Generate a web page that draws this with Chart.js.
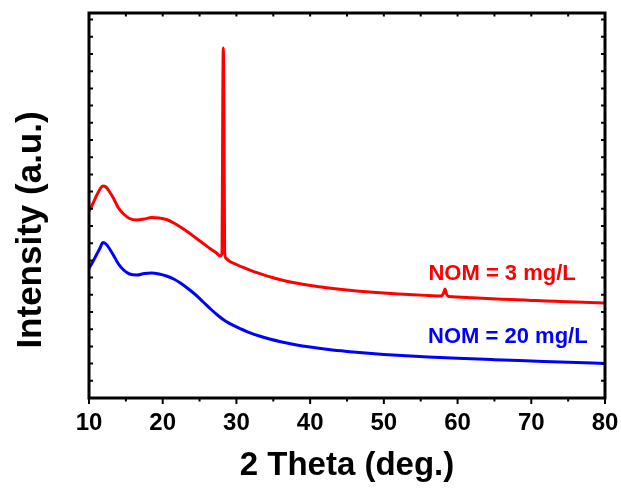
<!DOCTYPE html>
<html>
<head>
<meta charset="utf-8">
<title>XRD patterns</title>
<script src="https://cdn.jsdelivr.net/npm/chart.js@4.4.1/dist/chart.umd.min.js"></script>
<style>
  html, body { margin: 0; padding: 0; background: #fff; }
  #wrap { width: 621px; height: 488px; }
</style>
</head>
<body>
<div id="wrap"><canvas id="xrdChart"></canvas></div>
<script>
// 2 theta (deg.) and intensity (a.u.) for both NOM loadings
const redTheta = [10.0, 10.5, 11.0, 11.5, 11.9, 12.3, 12.8, 13.3, 14.0, 14.7,
  15.5, 16.5, 17.5, 18.5, 19.5, 20.5, 21.5, 22.5, 23.5, 24.5,
  25.5, 26.5, 27.3, 27.8, 28.05, 28.15, 28.22, 28.3, 28.4, 28.6,
  29.0, 30, 31, 32, 33, 34, 35, 36, 37.5, 39,
  40.5, 42, 44, 46, 48, 50, 52, 54, 56, 57.8,
  58.1, 58.3, 58.5, 58.8, 60, 62, 64, 66, 68, 70,
  72, 74, 76, 78, 80];
const redIntensity = [187, 194, 202, 209, 212, 211, 206, 200, 190, 184,
  179.5, 178, 179, 180.5, 180, 178.5, 175, 170.5, 165.5, 160,
  154.5, 149, 145, 142, 145, 300, 350, 290, 146, 139.5,
  137, 133.5, 130.3, 127.4, 124.8, 122.4, 120.2, 118.3, 115.8, 113.8,
  112, 110.5, 108.7, 107.2, 106, 104.9, 104, 103.2, 102.5, 101.9,
  105, 109, 104, 101.5, 101, 100.2, 99.5, 98.8, 98.2, 97.6,
  97, 96.5, 96, 95.5, 95];

const blueTheta = [10.0, 10.5, 11.0, 11.5, 11.9, 12.3, 12.8, 13.3, 14.0, 14.7,
  15.5, 16.5, 17.5, 18.5, 19.5, 20.5, 21.5, 22.5, 23.5, 24.5,
  25.5, 26.5, 27.5, 28.5, 29.5, 30.5, 31.5, 33, 34.5, 36,
  38, 40, 42.5, 45, 47.5, 50, 53, 56, 60, 65,
  70, 75, 80];
const blueIntensity = [129.5, 136, 143, 150, 155.5, 154, 149, 143, 134, 128,
  124, 123, 124.5, 125, 124, 122, 119, 114.5, 109, 103,
  96, 89, 82.5, 77, 72.8, 69.3, 66.2, 62.2, 59, 56.3,
  53.3, 50.9, 48.5, 46.6, 45, 43.6, 42.2, 41, 39.7, 38.3,
  37, 35.7, 34.5];

// in-plot series labels
const labelText = ["NOM = 3 mg/L", "NOM = 20 mg/L"];
const labelTheta = [56.05, 56.0];
const labelIntensity = [124, 61];
const labelColors = ["#ff0000", "#0000ff"];

const xTicks = [10, 20, 30, 40, 50, 60, 70, 80];
const xMinorTicks = [15, 25, 35, 45, 55, 65, 75];
const yTickStep = 17.2;

const FONT = "'Liberation Sans', Arial, sans-serif";

function toPoints(xs, ys) {
  return xs.map((x, i) => ({ x: x, y: ys[i] }));
}

// box frame, tick marks, y title and series labels
const framePlugin = {
  id: "frame",
  afterDatasetsDraw(chart) {
    const ctx = chart.ctx;
    const area = chart.chartArea;
    const xs = chart.scales.x;
    const ys = chart.scales.y;

    ctx.save();
    ctx.strokeStyle = "#000";
    ctx.lineWidth = 3;
    ctx.strokeRect(area.left, area.top, area.right - area.left, area.bottom - area.top);

    ctx.lineWidth = 2;
    ctx.beginPath();
    // bottom: outward ticks
    xTicks.forEach(v => {
      const px = xs.getPixelForValue(v);
      ctx.moveTo(px, area.bottom);
      ctx.lineTo(px, area.bottom + 6);
    });
    xMinorTicks.forEach(v => {
      const px = xs.getPixelForValue(v);
      ctx.moveTo(px, area.bottom);
      ctx.lineTo(px, area.bottom + 3.5);
    });
    // top: inward ticks
    xMinorTicks.concat(xTicks.slice(1, -1)).forEach(v => {
      const px = xs.getPixelForValue(v);
      ctx.moveTo(px, area.top);
      ctx.lineTo(px, area.top + 3.5);
    });
    // left and right: inward ticks
    for (let v = yTickStep; v < ys.max; v += yTickStep) {
      const py = ys.getPixelForValue(v);
      ctx.moveTo(area.left, py);
      ctx.lineTo(area.left + 4, py);
      ctx.moveTo(area.right, py);
      ctx.lineTo(area.right - 4, py);
    }
    ctx.stroke();

    // series labels
    ctx.font = "bold 22px " + FONT;
    ctx.textAlign = "left";
    ctx.textBaseline = "middle";
    labelText.forEach((t, i) => {
      ctx.fillStyle = labelColors[i];
      ctx.fillText(t, xs.getPixelForValue(labelTheta[i]), ys.getPixelForValue(labelIntensity[i]));
    });

    // y axis title
    ctx.fillStyle = "#000";
    ctx.font = "bold 35px " + FONT;
    ctx.textAlign = "center";
    ctx.translate(31, 230);
    ctx.rotate(-Math.PI / 2);
    ctx.fillText("Intensity (a.u.)", 0, 0);
    ctx.restore();
  }
};

const ctx = document.getElementById("xrdChart").getContext("2d");

new Chart(ctx, {
  type: "line",
  data: {
    datasets: [
      {
        label: labelText[0],
        data: toPoints(redTheta, redIntensity),
        borderColor: "#ff0000",
        borderWidth: 3,
        pointRadius: 0,
        cubicInterpolationMode: "monotone",
        fill: false
      },
      {
        label: labelText[1],
        data: toPoints(blueTheta, blueIntensity),
        borderColor: "#0000ff",
        borderWidth: 3,
        pointRadius: 0,
        cubicInterpolationMode: "monotone",
        fill: false
      }
    ]
  },
  options: {
    responsive: true,
    maintainAspectRatio: false,
    animation: false,
    layout: {
      padding: { top: 13, right: 16, left: 0, bottom: 0 }
    },
    plugins: {
      legend: { display: false },
      tooltip: { enabled: false }
    },
    scales: {
      x: {
        type: "linear",
        min: 10,
        max: 80,
        grid: { display: false, drawTicks: true, tickLength: 6 },
        border: { display: false },
        ticks: {
          stepSize: 10,
          color: "#000",
          padding: 5,
          maxRotation: 0,
          font: { family: FONT, size: 24, weight: "bold" }
        },
        title: {
          display: true,
          text: "2 Theta (deg.)",
          color: "#000",
          padding: { top: 0, bottom: 2 },
          font: { family: FONT, size: 33, weight: "bold" }
        },
        afterFit(scale) {
          scale.height = 90;
          // end labels may overhang; keep the plot width fixed
          scale.paddingLeft = 0;
          scale.paddingRight = 0;
        }
      },
      y: {
        min: 0,
        max: 385,
        grid: { display: false },
        border: { display: false },
        ticks: { display: false },
        afterFit(scale) {
          scale.width = 89;
        }
      }
    }
  },
  plugins: [framePlugin]
});
</script>
</body>
</html>
